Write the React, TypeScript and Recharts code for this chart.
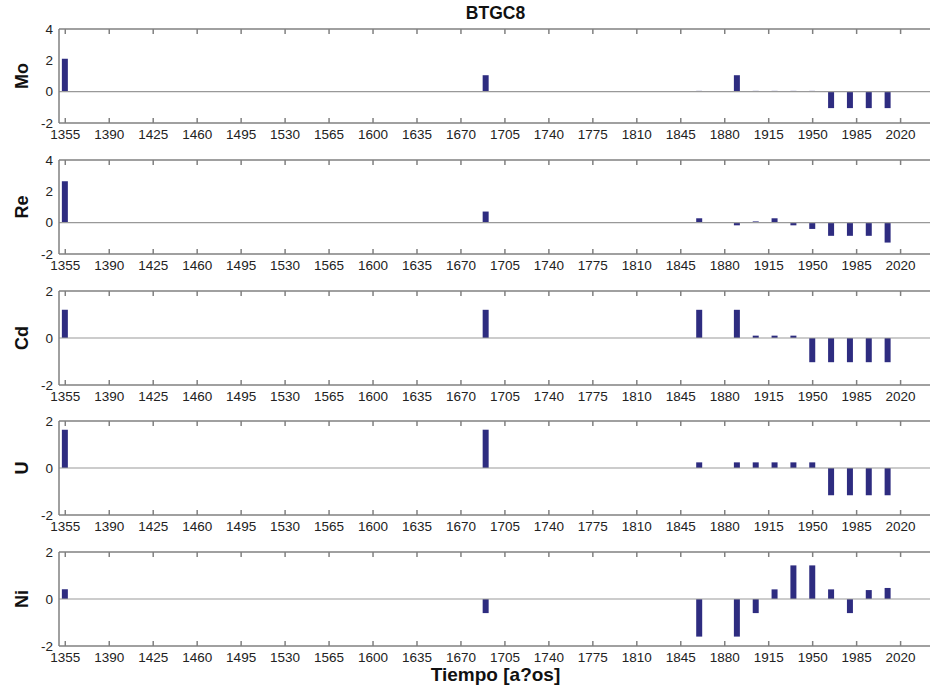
import { BarChart, Bar, XAxis, YAxis, ReferenceLine } from 'recharts';

// sampling years shared by every element panel
const years = [1355, 1690, 1860, 1890, 1905, 1920, 1935, 1950, 1965, 1980, 1995, 2010];

const moValues = [2.1, 1.05, 0.05, 1.05, 0.05, 0.05, 0.05, 0.05, -1.05, -1.05, -1.05, -1.05];
const reValues = [2.65, 0.71, 0.28, -0.17, 0.08, 0.28, -0.17, -0.4, -0.84, -0.84, -0.84, -1.27];
const cdValues = [1.2, 1.2, 1.2, 1.2, 0.1, 0.1, 0.1, -1.03, -1.03, -1.03, -1.03, -1.03];
const uValues = [1.63, 1.63, 0.24, 0.24, 0.24, 0.24, 0.24, 0.24, -1.16, -1.16, -1.16, -1.16];
const niValues = [0.41, -0.6, -1.6, -1.6, -0.6, 0.41, 1.43, 1.43, 0.41, -0.6, 0.38, 0.47];

const yearTicks = [1355, 1390, 1425, 1460, 1495, 1530, 1565, 1600, 1635, 1670, 1705, 1740, 1775, 1810, 1845, 1880, 1915, 1950, 1985, 2020];
const wideTicks = [-2, 0, 2, 4];
const narrowTicks = [-2, 0, 2];

const X_DOMAIN: [number, number] = [1350, 2045];

const panels = [
  { label: 'Mo', values: moValues, domain: [-2, 4], ticks: wideTicks },
  { label: 'Re', values: reValues, domain: [-2, 4], ticks: wideTicks },
  { label: 'Cd', values: cdValues, domain: [-2, 2], ticks: narrowTicks },
  { label: 'U', values: uValues, domain: [-2, 2], ticks: narrowTicks },
  { label: 'Ni', values: niValues, domain: [-2, 2], ticks: narrowTicks },
];

const FONT = '"Liberation Sans", Arial, Helvetica, sans-serif';
const CHART_W = 960;
const PLOT_LEFT = 59;
const PLOT_RIGHT = 932;
const PLOT_H = 94;
const M_TOP = 10;
const X_AXIS_H = 28;

// bottom label plus inward tick marks on the bottom and top edges
function XTick({ x, y, payload }: any) {
  return (
    <g>
      <line x1={x} x2={x} y1={y} y2={y - 5} stroke="gray" strokeWidth={1.5} />
      <line x1={x} x2={x} y1={y - PLOT_H} y2={y - PLOT_H + 5} stroke="gray" strokeWidth={1.5} />
      <text x={x} y={y + 16} textAnchor="middle" fontSize={13.5} fill="#222" fontFamily={FONT}>
        {payload.value}
      </text>
    </g>
  );
}

function Panel({ label, values, domain, ticks, top }: any) {
  const data = years.map((year, i) => ({ year, value: values[i] }));
  const h = M_TOP + PLOT_H + X_AXIS_H;
  return (
    <div style={{ position: 'absolute', left: 0, top: top - M_TOP, width: CHART_W, height: h }}>
      <BarChart
        width={CHART_W}
        height={h}
        data={data}
        margin={{ top: M_TOP, right: CHART_W - PLOT_RIGHT, bottom: 0, left: 0 }}
      >
        <XAxis
          dataKey="year"
          type="number"
          domain={X_DOMAIN}
          ticks={yearTicks}
          allowDataOverflow
          height={X_AXIS_H}
          axisLine={{ stroke: 'gray', strokeWidth: 1.5 }}
          tickLine={false}
          tickSize={0}
          tickMargin={0}
          interval={0}
          tick={<XTick />}
        />
        <YAxis
          type="number"
          domain={domain}
          ticks={ticks}
          allowDataOverflow
          width={PLOT_LEFT}
          axisLine={{ stroke: 'gray', strokeWidth: 1.5 }}
          tickLine={false}
          tickSize={0}
          tickMargin={6}
          interval={0}
          tick={{ fontSize: 13.5, fill: '#222', fontFamily: FONT }}
        />
        <ReferenceLine y={domain[1]} stroke="gray" strokeWidth={1.5} ifOverflow="visible" />
        <ReferenceLine x={X_DOMAIN[1]} stroke="gray" strokeWidth={1.5} ifOverflow="visible" />
        <ReferenceLine y={0} stroke="#999999" strokeWidth={1.2} />
        <Bar dataKey="value" barSize={6} fill="#2e2c80" isAnimationActive={false} />
      </BarChart>
      <div
        style={{
          position: 'absolute',
          left: 22,
          top: M_TOP + PLOT_H / 2,
          transform: 'translate(-50%, -50%) rotate(-90deg)',
          fontFamily: FONT,
          fontWeight: 'bold',
          fontSize: 18,
          color: '#111',
          whiteSpace: 'nowrap',
        }}
      >
        {label}
      </div>
    </div>
  );
}

export default function App() {
  const centre = (PLOT_LEFT + PLOT_RIGHT) / 2;
  return (
    <div
      style={{
        position: 'fixed',
        left: 0,
        top: 0,
        width: 930,
        height: 686,
        overflow: 'hidden',
        background: '#fff',
        fontFamily: FONT,
      }}
    >
      <div
        style={{
          position: 'absolute',
          left: centre,
          top: 13,
          transform: 'translate(-50%, -50%)',
          fontWeight: 'bold',
          fontSize: 17.5,
          color: '#111',
        }}
      >
        BTGC8
      </div>
      {panels.map((p, i) => (
        <Panel key={p.label} {...p} top={Math.round(29.3 + i * 130.6)} />
      ))}
      <div
        style={{
          position: 'absolute',
          left: centre,
          top: 675,
          transform: 'translate(-50%, -50%)',
          fontWeight: 'bold',
          fontSize: 19,
          color: '#111',
          whiteSpace: 'nowrap',
        }}
      >
        Tiempo [a?os]
      </div>
    </div>
  );
}
